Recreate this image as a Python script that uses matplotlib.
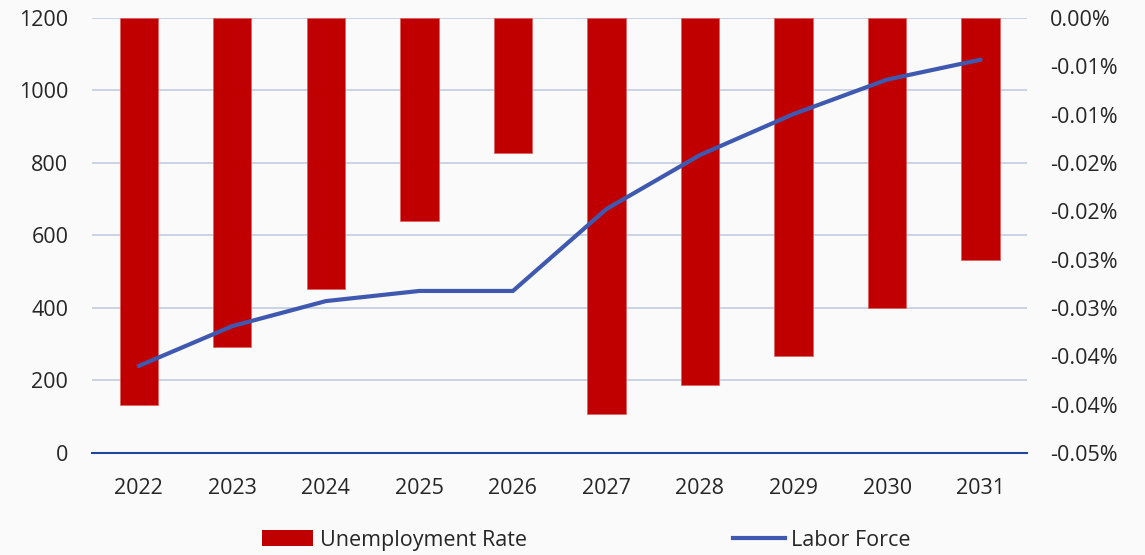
import matplotlib
matplotlib.use('Agg')
from matplotlib import pyplot as plt
from matplotlib.lines import Line2D
from matplotlib.patches import Patch
import numpy as np

plt.rcParams['font.family'] = ['Open Sans', 'DejaVu Sans']

years = ['2022', '2023', '2024', '2025', '2026', '2027', '2028', '2029', '2030', '2031']
# unemployment rate change, in percent
unemployment = [-0.040, -0.034, -0.028, -0.021, -0.014, -0.041, -0.038, -0.035, -0.030, -0.025]
labor_force = [240, 350, 419, 447, 447, 673, 822, 935, 1030, 1085]

left_ticks = [0, 200, 400, 600, 800, 1000, 1200]
right_ticks = [0, -0.005, -0.010, -0.015, -0.020, -0.025, -0.030, -0.035, -0.040, -0.045]
right_labels = ['0.00%', '-0.01%', '-0.01%', '-0.02%', '-0.02%',
                '-0.03%', '-0.03%', '-0.04%', '-0.04%', '-0.05%']

bar_color = '#c00000'
line_color = '#4059b0'
text_color = '#262626'
grid_color = '#c5d0e3'
fs = 15.5

fig = plt.figure(figsize=(11.45, 5.55), dpi=100, facecolor='#fafafa')
ax = fig.add_axes([0.0803, 0.1838, 0.8170, 0.7838])
ax.patch.set_visible(False)
x = np.arange(len(years))

# left axis: grid and 0-1200 scale
ax.set_ylim(0, 1200)
ax.set_xlim(-0.5, len(years) - 0.5)
ax.set_yticks(left_ticks)
ax.set_xticks(x)
ax.set_xticklabels(years)
ax.grid(axis='y', color=grid_color, lw=1.3)
ax.set_axisbelow(True)
for s in ['top', 'right', 'left']:
    ax.spines[s].set_visible(False)
ax.spines['bottom'].set_color('#1f47a0')
ax.spines['bottom'].set_linewidth(1.5)
ax.tick_params(axis='both', length=0, labelsize=fs, colors=text_color)
ax.tick_params(axis='y', pad=17)
ax.tick_params(axis='x', pad=18)

# right axis: bars hanging from zero
ax2 = ax.twinx()
ax2.patch.set_visible(False)
ax2.bar(x, unemployment, width=0.41, color=bar_color, edgecolor='#e06060', lw=0.5)
ax2.set_ylim(-0.045, 0)
ax2.set_yticks(right_ticks)
ax2.set_yticklabels(right_labels)
ax2.tick_params(axis='y', length=0, labelsize=fs, colors=text_color, pad=16)
for s in ax2.spines.values():
    s.set_visible(False)

# labor force line on top
ax3 = ax.twinx()
ax3.patch.set_visible(False)
ax3.plot(x, labor_force, color=line_color, lw=3, solid_capstyle='round')
ax3.set_ylim(0, 1200)
ax3.set_yticks([])
for s in ax3.spines.values():
    s.set_visible(False)

handles = [Patch(facecolor=bar_color, label='Unemployment Rate'),
           Line2D([0], [0], color=line_color, lw=3, label='Labor Force')]
fig.legend(handles=handles, loc='center', bbox_to_anchor=(0.512, 0.027), ncol=2,
           frameon=False, fontsize=fs, columnspacing=9.6, handlelength=2.4,
           handletextpad=0.3, labelcolor=text_color)

fig.savefig('out.png', dpi=100, facecolor=fig.get_facecolor())
